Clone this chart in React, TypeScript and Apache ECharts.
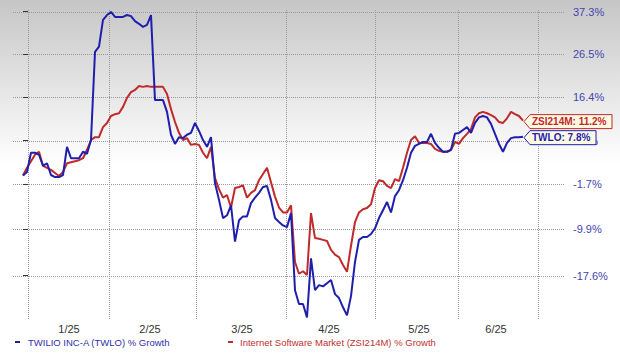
import React, { useEffect, useRef } from "react";
import * as echarts from "echarts";

// % growth, one value per trading-day step
const twloGrowth = [
  0, 0.7, 4.5, 4.5, 4.1, 1.9, 2.4, 0.1, -0.3, -0.3, 0.1,
  5.7, 3.4, 3.4, 3.4, 4.7, 4.3, 7.1, 27.0, 28.3, 35.1,
  36.4, 37.2, 35.9, 35.9, 35.9, 36.4, 36.1, 34.8, 34.1, 33.3,
  33.8, 36.4, 15.7, 15.7, 15.7, 13.1, 8.2, 6.3, 7.7, 7.5,
  8.2, 8.6, 10.7, 9.0, 7.1, 5.7, 7.7, -1.5, -4.6, -7.9,
  -7.4, -5.6, -12.0, -8.3, -7.6, -7.6, -5.2, -4.2, -3.3, -2.2,
  -2.0, -4.6, -7.9, -8.6, -9.2, -9.5, -7.0, -19.9, -22.0, -22.0,
  -24.0, -14.8, -19.9, -19.1, -19.3, -18.8, -18.3, -20.5, -21.1, -22.5,
  -23.7, -20.8, -15.4, -11.7, -11.2, -11.2, -10.7, -9.7, -7.9, -6.5,
  -5.0, -6.9, -3.9, -2.8, -0.9, 1.5, 4.5, 5.9, 6.3, 6.7,
  6.7, 8.4, 6.5, 5.5, 4.7, 4.7, 5.1, 8.4, 8.6, 9.2,
  9.8, 8.6, 10.7, 11.9, 12.2, 11.9, 10.5, 8.4, 6.3, 4.7,
  6.5, 7.5, 7.7, 7.7, 7.8,
];

const zsiGrowth = [
  0, 1.5, 2.8, 4.1, 4.7, 1.9, 1.5, 1.1, 0.5, -0.1, 0.7,
  2.4, 2.6, 2.8, 3.0, 3.4, 5.1, 7.1, 7.7, 7.7, 9.8,
  10.7, 12.2, 12.6, 12.8, 14.2, 16.2, 17.5, 18.0, 18.9, 18.7,
  18.9, 18.7, 18.7, 18.7, 18.7, 17.1, 13.7, 10.9, 8.6, 7.1,
  7.5, 6.1, 6.3, 6.1, 4.5, 3.4, 5.7, -0.5, -2.6, -4.2,
  -3.7, -6.0, -2.4, -2.2, -1.9, -4.2, -3.3, -2.8, -0.9, 0.3,
  1.5, -1.3, -4.0, -6.0, -6.9, -6.9, -5.6, -15.4, -17.3, -16.9,
  -17.5, -7.0, -11.4, -11.5, -11.7, -11.9, -13.4, -14.2, -14.6, -15.9,
  -17.0, -12.7, -8.6, -6.9, -6.3, -6.1, -5.4, -2.4, -0.9, -1.1,
  -2.0, -2.4, -0.7, -1.1, 1.5, 4.5, 7.1, 7.9, 6.5, 6.5,
  6.5, 6.3, 5.3, 4.9, 4.7, 4.7, 5.1, 6.7, 6.3, 7.5,
  8.4, 9.4, 11.9, 12.8, 13.1, 12.8, 12.4, 11.9, 10.9, 10.7,
  11.7, 13.1, 12.6, 12.2, 11.2,
];

const yTickLabels = [-17.6, -9.9, -1.7, 7.0, 16.4, 26.5, 37.3];
const monthLabels = ["1/25", "2/25", "3/25", "4/25", "5/25", "6/25"];
const monthLabelPos = [11.5, 31.75, 54.75, 76.5, 99, 118.25];
const monthGridPos = [1.25, 21.5, 43.25, 65.75, 88, 108.75, 128.75];

const TWLO_NAME = "TWILIO INC-A (TWLO) % Growth";
const ZSI_NAME = "Internet Software Market (ZSI214M) % Growth";

// log-growth scale
const LN0 = -0.1905;
const STEP = 0.0851;
const toScale = (p: number) => (Math.log(1 + p / 100) - LN0) / STEP;

const X_MIN = -2.5;
const X_MAX = 135.5;
const Y_MIN = -1.045;
const Y_MAX = 6;

const BLUE = "#1f1fae";
const RED = "#c02a2a";
const FONT = "'Liberation Sans', Arial, sans-serif";

export default function App() {
  const ref = useRef<HTMLDivElement>(null);

  useEffect(() => {
    if (!ref.current) return;
    const chart = echarts.init(ref.current, undefined, { renderer: "svg" });
    chart.setOption({
      animation: false,
      grid: { left: 13, right: 55, top: 10, bottom: 33 },
      xAxis: {
        type: "value",
        min: X_MIN,
        max: X_MAX,
        z: 5,
        axisLine: {
          show: true,
          lineStyle: { color: "#1a1a1a", width: 2, shadowColor: "rgba(0,0,0,0.35)", shadowBlur: 2, shadowOffsetY: 1 },
        },
        axisTick: { show: false },
        axisLabel: {
          customValues: monthLabelPos,
          formatter: (v: number) => {
            const idx = monthLabelPos.findIndex((p) => Math.abs(p - v) < 1e-6);
            return idx >= 0 ? monthLabels[idx] : "";
          },
          color: "#333",
          fontSize: 11,
          fontFamily: FONT,
          margin: 3,
        },
        splitLine: { show: false },
      },
      yAxis: {
        type: "value",
        position: "right",
        min: Y_MIN,
        max: Y_MAX,
        z: 5,
        axisLine: {
          show: true,
          lineStyle: { color: "#1a1a1a", width: 2, shadowColor: "rgba(0,0,0,0.35)", shadowBlur: 2, shadowOffsetX: 1 },
        },
        axisTick: {
          show: true,
          length: 5,
          customValues: yTickLabels.map(toScale),
          lineStyle: { color: "#333" },
        },
        axisLabel: {
          customValues: yTickLabels.map(toScale),
          formatter: (v: number) => {
            const idx = yTickLabels.findIndex((p) => Math.abs(toScale(p) - v) < 1e-6);
            return idx >= 0 ? `${yTickLabels[idx].toFixed(1)}%` : "";
          },
          color: "#4444b0",
          fontSize: 11,
          fontFamily: FONT,
          margin: 8,
        },
        splitLine: { show: false },
      },
      series: [
        {
          name: ZSI_NAME,
          type: "line",
          showSymbol: false,
          data: zsiGrowth.map((p, i) => [i, toScale(p)]),
          lineStyle: { color: RED, width: 2 },
          itemStyle: { color: RED },
          z: 3,
        },
        {
          name: TWLO_NAME,
          type: "line",
          showSymbol: false,
          data: twloGrowth.map((p, i) => [i, toScale(p)]),
          lineStyle: { color: BLUE, width: 2 },
          itemStyle: { color: BLUE },
          z: 4,
        },
      ],
    });

    const px = (x: number, y: number) =>
      chart.convertToPixel({ xAxisIndex: 0, yAxisIndex: 0 }, [x, y]) as number[];

    const gridStyle = { stroke: "#999999", fill: null, lineWidth: 1, lineDash: [1, 1] };
    const gridLines: any[] = [];
    monthGridPos.forEach((gx) => {
      const a = px(gx, Y_MIN);
      const b = px(gx, Y_MAX);
      const x = Math.round(a[0]) + 0.5;
      gridLines.push({ type: "line", z: 1, silent: true, shape: { x1: x, y1: b[1], x2: x, y2: a[1] }, style: gridStyle });
    });
    yTickLabels.forEach((p) => {
      const a = px(X_MIN, toScale(p));
      const b = px(X_MAX, toScale(p));
      const y = Math.round(a[1]) + 0.5;
      gridLines.push({ type: "line", z: 1, silent: true, shape: { x1: a[0], y1: y, x2: b[0], y2: y }, style: gridStyle });
    });

    const tag = (series: number[], text: string, color: string, w: number) => {
      const last = series.length - 1;
      const pt = px(last, toScale(series[last]));
      const x0 = pt[0] + 1;
      const cy = pt[1] + 1;
      return [
        {
          type: "polygon",
          z: 100,
          shape: {
            points: [
              [x0, cy],
              [x0 + 6, cy - 7],
              [x0 + w, cy - 7],
              [x0 + w, cy + 7],
              [x0 + 6, cy + 7],
            ],
          },
          style: { fill: "#fdf9e2", stroke: color, lineWidth: 1 },
        },
        {
          type: "text",
          z: 101,
          x: x0 + 8,
          y: cy,
          style: {
            text,
            fill: color,
            fontSize: 10,
            fontWeight: "bold",
            fontFamily: FONT,
            verticalAlign: "middle",
          },
        },
      ];
    };

    const zsiLast = zsiGrowth[zsiGrowth.length - 1];
    const twloLast = twloGrowth[twloGrowth.length - 1];

    chart.setOption({
      graphic: [
        ...gridLines,
        ...tag(zsiGrowth, `ZSI214M: ${zsiLast.toFixed(1)}%`, RED, 88),
        ...tag(twloGrowth, `TWLO: ${twloLast.toFixed(1)}%`, BLUE, 72),
        { type: "rect", z: 100, shape: { x: 15, y: 341, width: 5, height: 2 }, style: { fill: BLUE } },
        {
          type: "text",
          z: 100,
          x: 28,
          y: 342,
          style: { text: TWLO_NAME, fill: "#2f2fa8", fontSize: 9.5, fontFamily: FONT, verticalAlign: "middle" },
        },
        { type: "rect", z: 100, shape: { x: 228, y: 341, width: 5, height: 2 }, style: { fill: RED } },
        {
          type: "text",
          z: 100,
          x: 240,
          y: 342,
          style: { text: ZSI_NAME, fill: "#c03030", fontSize: 9.5, fontFamily: FONT, verticalAlign: "middle" },
        },
      ],
    });

    return () => chart.dispose();
  }, []);

  return (
    <div
      ref={ref}
      style={{
        position: "absolute",
        left: 0,
        top: 0,
        width: 620,
        height: 353,
        background: "linear-gradient(to bottom, #c6c6c6 0px, #ffffff 165px)",
      }}
    />
  );
}
